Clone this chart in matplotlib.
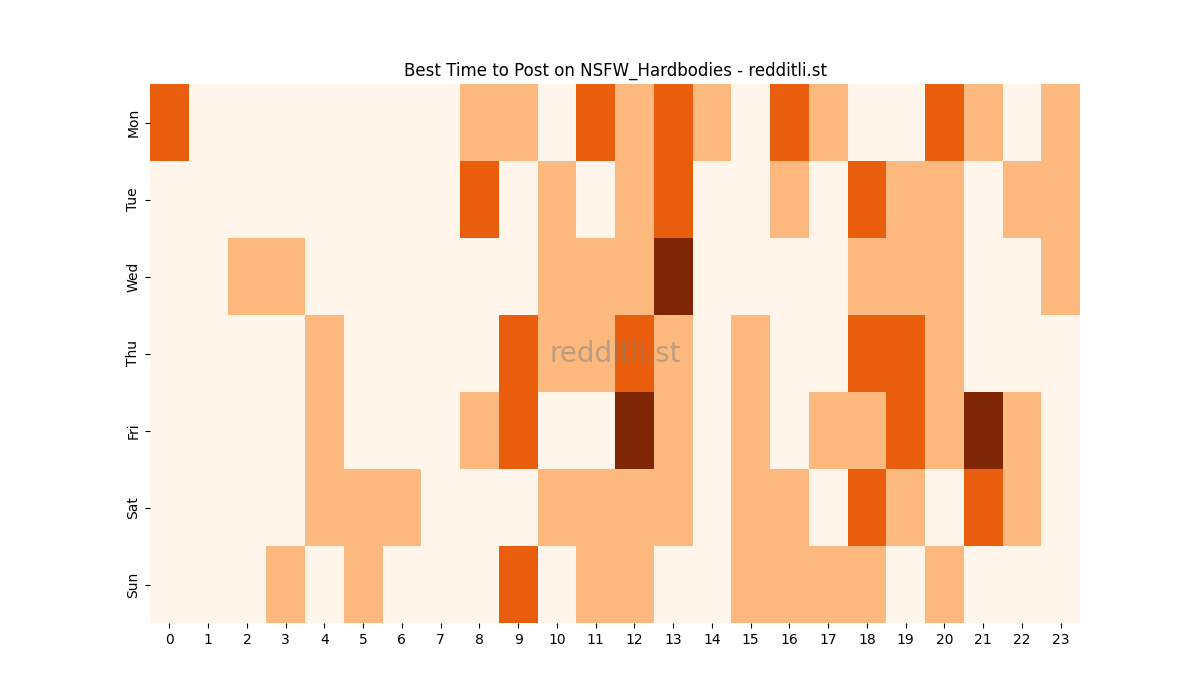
import matplotlib
matplotlib.use("Agg")
import matplotlib.pyplot as plt
import seaborn as sns
import numpy as np

DAYS = ["Mon", "Tue", "Wed", "Thu", "Fri", "Sat", "Sun"]
HOURS = list(range(24))

# posting score per hour, 0..3
mon = [2, 0, 0, 0, 0, 0, 0, 0, 1, 1, 0, 2, 1, 2, 1, 0, 2, 1, 0, 0, 2, 1, 0, 1]
tue = [0, 0, 0, 0, 0, 0, 0, 0, 2, 0, 1, 0, 1, 2, 0, 0, 1, 0, 2, 1, 1, 0, 1, 1]
wed = [0, 0, 1, 1, 0, 0, 0, 0, 0, 0, 1, 1, 1, 3, 0, 0, 0, 0, 1, 1, 1, 0, 0, 1]
thu = [0, 0, 0, 0, 1, 0, 0, 0, 0, 2, 1, 1, 2, 1, 0, 1, 0, 0, 2, 2, 1, 0, 0, 0]
fri = [0, 0, 0, 0, 1, 0, 0, 0, 1, 2, 0, 0, 3, 1, 0, 1, 0, 1, 1, 2, 1, 3, 1, 0]
sat = [0, 0, 0, 0, 1, 1, 1, 0, 0, 0, 1, 1, 1, 1, 0, 1, 1, 0, 2, 1, 0, 2, 1, 0]
sun = [0, 0, 0, 1, 0, 1, 0, 0, 0, 2, 0, 1, 1, 0, 0, 1, 1, 1, 1, 0, 1, 0, 0, 0]

grid = np.array([mon, tue, wed, thu, fri, sat, sun])

fig, ax = plt.subplots(figsize=(12, 7), dpi=100)
sns.heatmap(grid, cmap="Oranges", cbar=False, ax=ax,
            xticklabels=HOURS, yticklabels=DAYS)
ax.set_title("Best Time to Post on NSFW_Hardbodies - redditli.st")
ax.text(0.5, 0.5, "redditli.st", transform=ax.transAxes, ha="center", va="center",
        fontsize=20, color="grey", alpha=0.5)
plt.savefig("out.png")
